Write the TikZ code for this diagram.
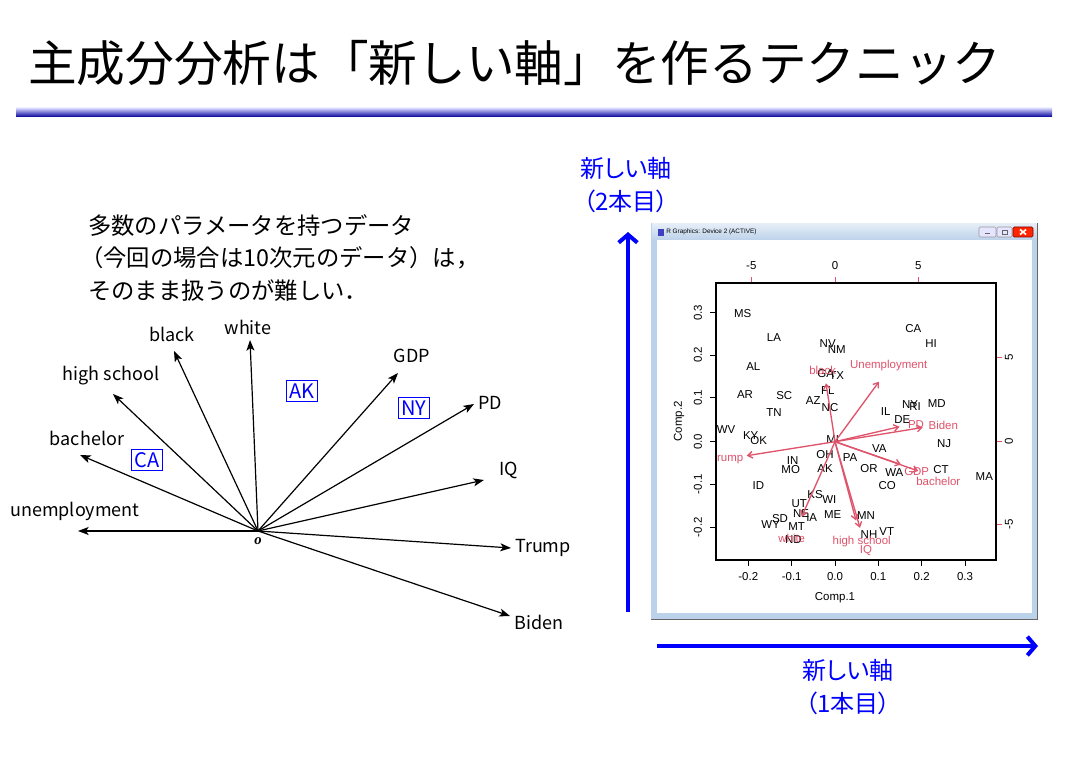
\documentclass[tikz,border=0pt]{standalone}
\usepackage{fontspec}
\setmainfont{Noto Sans CJK JP}
\newfontfamily\pfont{Noto Sans CJK JP}[RawFeature=+palt]
\newfontfamily\rfont{Liberation Sans}
\newfontfamily\ofont{Liberation Serif}
\usetikzlibrary{arrows.meta}
\definecolor{axisblue}{RGB}{0,0,255}
\definecolor{rpink}{RGB}{223,83,107}
\definecolor{winblue}{RGB}{188,210,234}
\tikzset{
  vec/.style={line width=0.9pt,-{Stealth[length=8pt,width=6pt,inset=2pt]}},
  lab/.style={font=\fontsize{13.5}{16}\selectfont,inner sep=0pt},
  statebox/.style={draw=axisblue,text=axisblue,line width=0.8pt,font=\fontsize{15}{16}\selectfont,inner sep=2.5pt},
  newaxis/.style={axisblue,line width=3pt,-{Straight Barb[length=6pt,width=14pt]}},
  axislab/.style={text=axisblue,align=center,font=\pfont\fontsize{18}{24.5}\selectfont},
  rtext/.style={font=\rfont\fontsize{8.6}{9}\selectfont,inner sep=0pt},
  rvec/.style={rpink,line width=1pt,-{Straight Barb[length=3.5pt,width=5pt]}},
}
\begin{document}
\begin{tikzpicture}[x=0.75pt,y=-0.75pt]
\useasboundingbox (0,0) rectangle (1068,759);
\node[anchor=west,inner sep=0pt,font=\fontsize{36.5}{40}\selectfont] (title) at (28,63) {主成分分析は「新しい軸」を作るテクニック};
\shade[top color=blue!15,bottom color=blue!60!black] (16,108) rectangle (1052,117);
\node[anchor=west,align=left,inner sep=0pt,font=\fontsize{17.5}{24.4}\selectfont] (intro) at (88,258) {多数のパラメータを持つデータ\\\hspace*{-0.35em}（今回の場合は10次元のデータ）は，\\そのまま扱うのが難しい．};
% original axes
\coordinate (o) at (258,531);
\node[font=\ofont\bfseries\itshape\fontsize{11}{12}\selectfont,inner sep=0pt] (olab) at (258,541) {o};
\foreach \n/\x/\y/\lx/\ly/\t in {un/78/531/75/511/unemployment,ba/80/455/87/438/bachelor,hs/113/394/111/376/high school,bk/174/351/172/334/black,wh/250/340/248/327/white,gdp/398/373/412/356/GDP,pd/474/404/490/403/PD,iq/484/480/509/470/IQ,tr/511/548/543/548/Trump,bi/510/616/539/622/Biden} {
  \coordinate (\n) at (\x,\y);
  \draw[vec] (o) -- (\n);
  \node[lab] (l\n) at (\lx,\ly) {\t};
}
\node[statebox] (ca) at (147,460) {CA};
\node[statebox] (ak) at (302,391) {AK};
\node[statebox] (ny) at (414,408) {NY};
% new axes
\coordinate (vbot) at (628,612);
\coordinate (vtop) at (628,232);
\coordinate (hleft) at (657,646);
\coordinate (hright) at (1038,646);
\draw[newaxis] (vbot) -- (vtop);
\draw[newaxis] (hleft) -- (hright);
\node[axislab] (vlab) at (626,185) {新しい軸\\（2本目）};
\node[axislab] (hlab) at (848,687) {新しい軸\\（1本目）};
% R window
\fill[winblue] (651,223) rectangle (1038,620);
\shade[top color=white!60!winblue,bottom color=winblue] (652,224) rectangle (1037,240);
\draw[black!60,line width=1pt] (1037.5,223) -- (1037.5,619.5) -- (651,619.5);
\fill[white] (657,240) rectangle (1032,613);
\fill[blue!50!gray] (658,229) rectangle (664,236);
\node[anchor=west,font=\rfont\fontsize{4.8}{5}\selectfont,inner sep=0pt] (wtitle) at (666,232) {R Graphics: Device 2 (ACTIVE)};
\draw[black!40,fill=blue!10,rounded corners=1pt] (979,227) rectangle (996,237);
\draw[black!40,fill=blue!10,rounded corners=1pt] (997,227) rectangle (1012,237);
\draw[red!50!black,fill=red!70!orange,rounded corners=1pt] (1013,227) rectangle (1033,237);
\draw[black!60] (985,233.5) -- (990,233.5);
\draw[black!60] (1002,230) rectangle (1007,234.5);
\draw[white,line width=1.2pt] (1020,229.5) -- (1026,234.5) (1020,234.5) -- (1026,229.5);
% biplot
\foreach \v/\x [count=\i] in {-0.2/748.3,-0.1/791.7,0.0/835,0.1/878.3,0.2/921.7,0.3/965} {
  \draw (\x,560) -- (\x,566);
  \node[rtext] (bt\i) at (\x,576.5) {\v};
}
\foreach \v/\y [count=\i] in {0.3/312.7,0.2/355,0.1/397.7,0.0/441.7,-0.1/484.3,-0.2/527.3} {
  \draw (716,\y) -- (710,\y);
  \node[rtext,rotate=90] (lt\i) at (698,\y) {\v};
}
\foreach \v/\x [count=\i] in {-5/751.3,0/835,5/918.3} {
  \draw[rpink] (\x,283) -- (\x,277);
  \node[rtext] (tt\i) at (\x,265.5) {\v};
}
\foreach \v/\y [count=\i] in {5/357.3,0/441.7,-5/524.3} {
  \draw[rpink] (996,\y) -- (1002,\y);
  \node[rtext,rotate=90] (rt\i) at (1009,\y) {\v};
}
\node[rtext] (c1lab) at (835,598) {Comp.1};
\node[rtext,rotate=90] (c2lab) at (679,421.5) {Comp.2};
\foreach \s/\x/\y in {MS/742.7/314,LA/774/337.3,NV/827.7/343.3,NM/836.7/349.3,CA/913.3/328.7,HI/931/344,AL/753.3/367,GA/825.7/374,TX/836.7/375.3,FL/827.7/391,AR/745/394.3,SC/784.3/395.7,AZ/813.3/400.3,NC/830/407.7,TN/774/412.3,IL/885.7/412,NY/910/404.7,RI/915/406.7,MD/936.7/403.3,DE/902.3/419.3,WV/726/430,KY/750.7/435.3,OK/758.7/441,MI/832.7/439.3,NJ/944/444,VA/879.3/449,OH/825/454.3,PA/850/457.3,IN/792.7/461,MO/790.7/470,AK/825/468.3,OR/869/468.3,WA/894.3/472.3,CT/941/469.3,MA/984.3/476.3,ID/758.3/486,CO/887.3/486,KS/815/494.3,WI/829.3/499.3,UT/799.3/504,NE/801/513.3,IA/811.7/517.3,ME/832.7/515,MN/866/516,SD/780/518.3,WY/770.7/525,MT/796.7/526.7,NH/869/534.3,VT/886.7/532,ND/793.3/540}
  \node[rtext] (\s) at (\x,\y) {\s};
\coordinate (c) at (835,441.7);
\foreach \n/\x/\y/\lx/\ly/\t in {rbk/826/383.3/822.7/370/black,run/879/381.7/888.7/366/Unemployment,rpd/899.5/426.7/916/425/PD,rbi/922.7/427.5/943.3/425/Biden,rgdp/901/464.5/916.7/471.3/GDP,rba/918.3/471/938.3/481/bachelor,rhs/856/520.5/861.7/542/high school,riq/860/527.8/866/551/IQ,rwh/801.7/516.7/791.7/538/white} {
  \coordinate (\n) at (\x,\y);
  \draw[rvec] (c) -- (\n);
  \node[rtext,text=rpink] (l\n) at (\lx,\ly) {\t};
}
\coordinate (rtr) at (746.7,455.7);
\draw[rvec] (c) -- (rtr);
\node[rtext,text=rpink,anchor=west] (lrtr) at (716.8,459.3) {rump};
\draw[line width=1.1pt] (716,283) rectangle (996,560);
\end{tikzpicture}
\end{document}
